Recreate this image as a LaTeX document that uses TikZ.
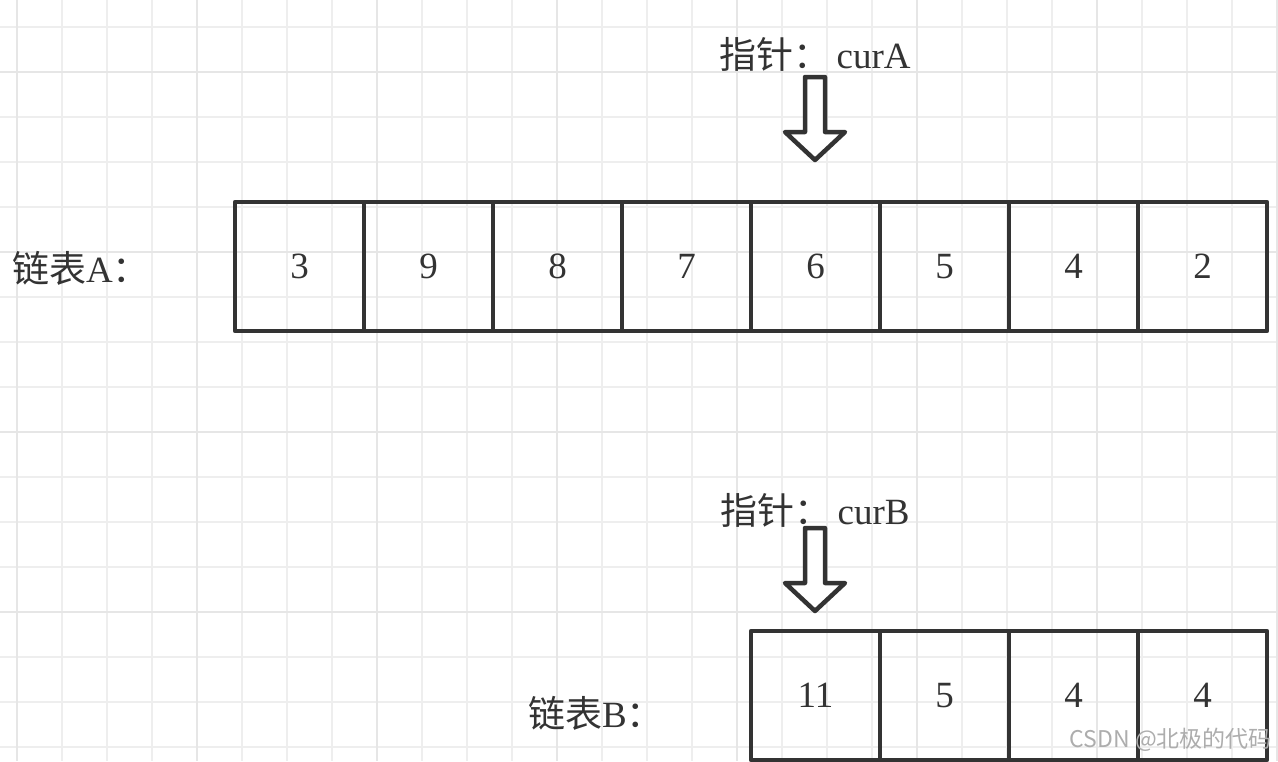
\documentclass[tikz,border=0pt]{standalone}
\usepackage{fontspec}
\setmainfont{Liberation Serif}
\newfontfamily\cjk{Noto Sans CJK SC}
\definecolor{boxgray}{HTML}{333333}
\definecolor{minorgray}{HTML}{EEEEEE}
\definecolor{majorgray}{HTML}{E6E6E6}
\newcommand{\labelfont}{\fontsize{37}{40}\selectfont}
\tikzset{
    cell/.style = {rectangle, draw=boxgray, line width=4.5pt, line join=round, minimum width=129pt,
                        minimum height=129pt, inner sep=0pt, outer sep=0pt, text=boxgray},
    listname/.style = {anchor=west, inner sep=0pt, text=boxgray},
    ptrtext/.style = {inner sep=0pt, text=boxgray},
    pointer/.style = {draw=boxgray, line width=4.5pt, line join=round, fill=white},
    minorline/.style = {draw=minorgray, line width=1.5pt},
    majorline/.style = {draw=majorgray, line width=2.2pt}
}

\begin{document}
\begin{tikzpicture}[x=1pt, y=-1pt]
			\tikzstyle{every node}=[font=\labelfont]
			\useasboundingbox (0,0) rectangle (1278,761);
			\fill[white] (0,0) rectangle (1278,761);
			% background grid
			\foreach \gx in {17,62,...,1277} \draw[minorline] (\gx,0) -- (\gx,761);
			\foreach \gy in {27,72,...,747} \draw[minorline] (0,\gy) -- (1278,\gy);
			\foreach \gx in {17,197,...,1277} \draw[majorline] (\gx,0) -- (\gx,761);
			\foreach \gy in {72,252,...,747} \draw[majorline] (0,\gy) -- (1278,\gy);
			% list A
			\node (nameA) [listname] at (12,268) {{\cjk 链表}A{\cjk ：}};
			\node (a1) [cell] at (299.5,266.5) {3};
			\node (a2) [cell] at (428.5,266.5) {9};
			\node (a3) [cell] at (557.5,266.5) {8};
			\node (a4) [cell] at (686.5,266.5) {7};
			\node (a5) [cell] at (815.5,266.5) {6};
			\node (a6) [cell] at (944.5,266.5) {5};
			\node (a7) [cell] at (1073.5,266.5) {4};
			\node (a8) [cell] at (1202.5,266.5) {2};
			% pointer curA
			\node (ptrA) [ptrtext] at (815,54) {{\cjk 指针：}\,curA};
			\coordinate (tipA) at (815,160);
			\path[pointer] (tipA) -- ++(-30,-28) -- ++(20,0) -- ++(0,-55) -- ++(20,0)
				-- ++(0,55) -- ++(20,0) -- cycle;
			% list B
			\node (nameB) [listname] at (528,713) {{\cjk 链表}B{\cjk ：}};
			\node (b1) [cell] at (815.5,695.5) {11};
			\node (b2) [cell] at (944.5,695.5) {5};
			\node (b3) [cell] at (1073.5,695.5) {4};
			\node (b4) [cell] at (1202.5,695.5) {4};
			% pointer curB
			\node (ptrB) [ptrtext] at (815,510) {{\cjk 指针：}\,curB};
			\coordinate (tipB) at (815,611);
			\path[pointer] (tipB) -- ++(-30,-28) -- ++(20,0) -- ++(0,-55) -- ++(20,0)
				-- ++(0,55) -- ++(20,0) -- cycle;
			% watermark
			\node (mark) [anchor=east, inner sep=0pt, text=black!32, font=\cjk\fontsize{23}{26}\selectfont]
				at (1272,740) {CSDN @北极的代码};
		\end{tikzpicture}
\end{document}
